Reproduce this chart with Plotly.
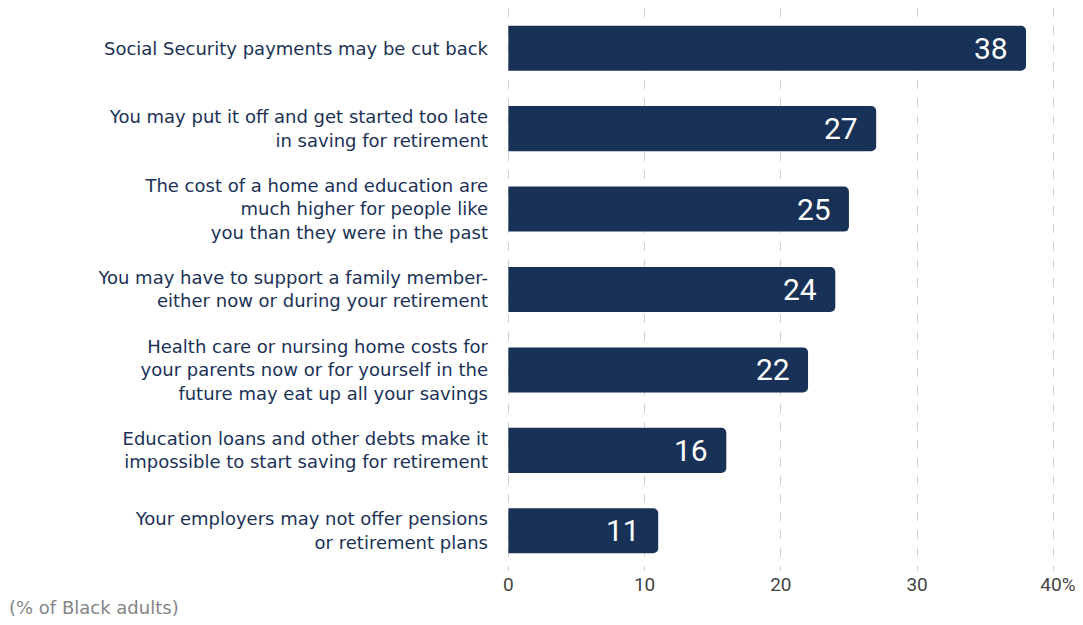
import plotly.graph_objects as go

categories = [
    "Social Security payments may be cut back",
    "You may put it off and get started too late<br>in saving for retirement",
    "The cost of a home and education are<br>much higher for people like<br>you than they were in the past",
    "You may have to support a family member-<br>either now or during your retirement",
    "Health care or nursing home costs for<br>your parents now or for yourself in the<br>future may eat up all your savings",
    "Education loans and other debts make it<br>impossible to start saving for retirement",
    "Your employers may not offer pensions<br>or retirement plans",
]
values = [38, 27, 25, 24, 22, 16, 11]
tick_vals = [0, 10, 20, 30, 40]
tick_text = ["0", "10", "20", "30", "\u00a0\u00a040%"]
footnote = "(% of Black adults)"

NAVY = "#173157"
LABEL_FONT = "DejaVu Sans"
NUM_FONT = "Roboto"

fig = go.Figure()
fig.add_trace(go.Bar(
    y=categories, x=values, orientation="h",
    marker=dict(color=NAVY, cornerradius=5, line=dict(width=0)),
    width=0.56, hoverinfo="skip",
))

for c, v in zip(categories, values):
    fig.add_annotation(x=v, y=c, text=str(v), showarrow=False,
                       xanchor="right", yanchor="middle", xshift=-16,
                       font=dict(family=NUM_FONT, size=30, color="white"))

fig.add_annotation(x=0, y=0, xref="paper", yref="paper", text=footnote,
                   showarrow=False, xanchor="left", yanchor="middle",
                   xshift=-500, yshift=-36,
                   font=dict(family=LABEL_FONT, size=18, color="#858585"))

fig.update_layout(
    width=1075, height=609,
    margin=dict(l=499, r=27, t=0, b=46),
    paper_bgcolor="white", plot_bgcolor="white",
    showlegend=False,
    bargap=0.44,
)
fig.update_xaxes(
    range=[-0.1, 40.2], tickvals=tick_vals, ticktext=tick_text,
    showgrid=True, gridcolor="#d0d0d0", griddash="dash", gridwidth=1,
    zeroline=False, showline=False, ticks="", automargin=False,
    ticklabeloverflow="allow",
    tickfont=dict(family=NUM_FONT, size=19, color="#444444"),
)
fig.update_yaxes(
    categoryorder="array", categoryarray=categories[::-1],
    range=[-0.5, 6.5], showgrid=False, zeroline=False, showline=False,
    ticks="", ticklabelstandoff=18, automargin=False,
    tickfont=dict(family=LABEL_FONT, size=18, color="#1b3256"),
)

fig.write_html("out.html")
